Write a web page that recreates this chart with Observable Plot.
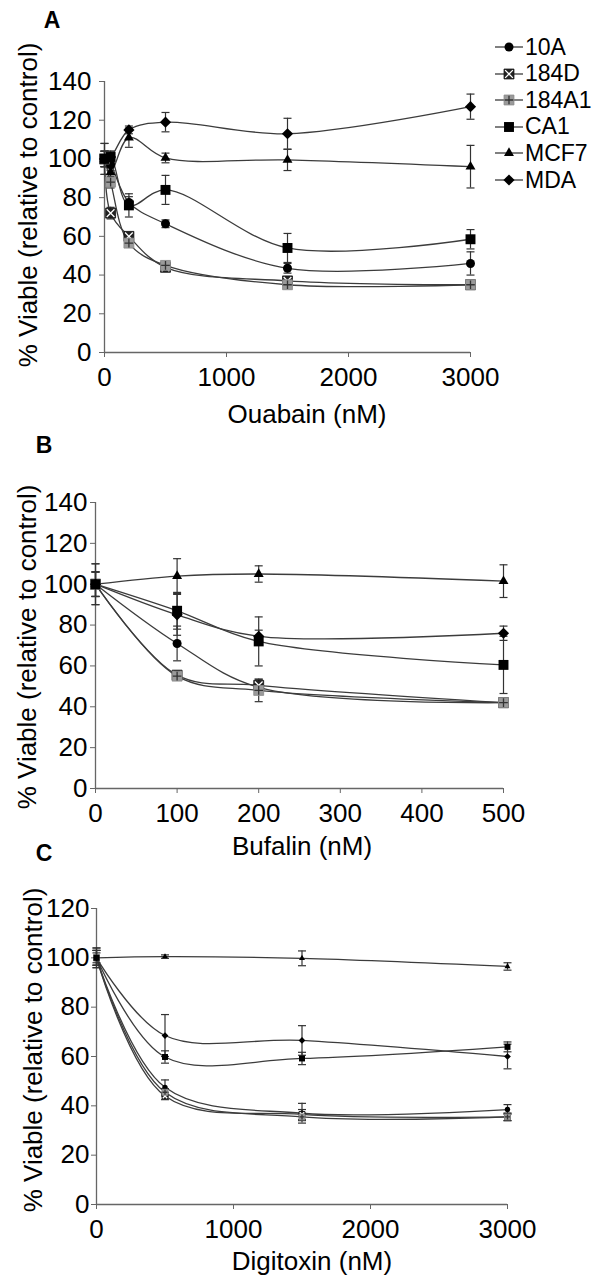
<!DOCTYPE html>
<html>
<head>
<meta charset="utf-8">
<script src="https://cdn.jsdelivr.net/npm/d3@7"></script>
<script src="https://cdn.jsdelivr.net/npm/@observablehq/plot@0.6"></script>
<style>
  body { margin: 0; background: #fff; font-family: "Liberation Sans", Arial, sans-serif; }
  #root { position: relative; width: 607px; height: 1277px; overflow: hidden; background: #fff; }
  #root svg.plotsvg { position: absolute; left: 0; }
  .lbl { position: absolute; font-size: 26px; line-height: 1; color: #000; white-space: nowrap; transform: translate(-50%, -50%); }
  .ylab { position: absolute; font-size: 26px; line-height: 1; color: #000; white-space: nowrap; transform: translate(-50%, -50%) rotate(-90deg); }
  .letter { position: absolute; font-size: 23px; font-weight: bold; line-height: 1; transform: translate(-50%, -50%); }
  .leg { position: absolute; left: 495px; height: 26px; display: flex; align-items: center; font-size: 23px; line-height: 1; white-space: nowrap; }
</style>
</head>
<body>
<div id="root"></div>
<script>
// ---------------- data ----------------
const seriesNames = ["10A", "184D", "184A1", "CA1", "MCF7", "MDA"];

const ouabainDoses = [0, 50, 200, 500, 1500, 3000];
const ouabainMeans = [
  [100, 97, 77.5, 66.5, 43.5, 46],
  [100, 72, 60, 44, 37, 35],
  [100, 88, 56.5, 45, 35, 35],
  [100, 101, 76, 84, 54, 58.5],
  [100, 93, 111, 100.5, 99.5, 96],
  [100, 101, 115, 119, 113, 127]
];
const ouabainErrors = [
  [4, 3, 3, 2, 2.5, 6],
  [4, 3, 2, 2, 2, 2],
  [4, 3, 2, 2, 2, 2],
  [8, 3, 6, 7.5, 7.5, 5],
  [4, 3, 5, 2.5, 5.5, 11],
  [8, 3, 2, 5, 8, 6.5]
];

const bufalinDoses = [0, 100, 200, 500];
const bufalinMeans = [
  [100, 71, 49.5, 42],
  [100, 55.5, 50.5, 42],
  [100, 55, 48, 42],
  [100, 87, 72, 60.5],
  [100, 104, 105, 101.5],
  [100, 85, 74.5, 76]
];
const bufalinErrors = [
  [6, 8.5, 3, 1.5],
  [6, 2, 3, 1.5],
  [10, 2, 5.5, 1.5],
  [10, 9, 12, 14],
  [6, 8.5, 4, 8],
  [6, 10, 3, 3.5]
];

const digitoxinDoses = [0, 500, 1500, 3000];
const digitoxinMeans = [
  [100, 47.5, 37, 38.5],
  [100, 44, 36.5, 35.5],
  [100, 45.5, 35.5, 35.5],
  [100, 59.8, 59.2, 63.9],
  [100, 100.5, 99.8, 96.5],
  [100, 68.5, 66.5, 60]
];
const digitoxinErrors = [
  [3, 3, 4, 2],
  [3, 1.5, 2, 1.5],
  [4, 1.5, 1.5, 1.5],
  [3, 2.5, 2.5, 2],
  [2, 0.7, 3, 1.5],
  [4, 8.5, 6, 5]
];

const ouabainTicks = [0, 1000, 2000, 3000];
const bufalinTicks = [0, 100, 200, 300, 400, 500];
const digitoxinTicks = [0, 1000, 2000, 3000];
const viabilityTicksAB = [0, 20, 40, 60, 80, 100, 120, 140];
const viabilityTicksC = [0, 20, 40, 60, 80, 100, 120];

const yTitle = "% Viable (relative to control)";
const xTitles = ["Ouabain (nM)", "Bufalin (nM)", "Digitoxin (nM)"];
const panelLetters = ["A", "B", "C"];

// ---------------- styling helpers ----------------
const FONT = '"Liberation Sans", Arial, sans-serif';
const LINE = "#3c3c3c";
const AXIS = "#666";

const capSymbol = { draw(ctx, size) { const w = Math.sqrt(size / Math.PI); ctx.moveTo(-w, 0); ctx.lineTo(w, 0); } };
const diamondSymbol = { draw(ctx, size) { const h = Math.sqrt(size / Math.PI); ctx.moveTo(0, -h); ctx.lineTo(h, 0); ctx.lineTo(0, h); ctx.lineTo(-h, 0); ctx.closePath(); } };

// marker layers for each series: [symbol, r, fill, stroke]
const markerStyles = {
  "10A":   [["circle", 4.5, "#000", "none"]],
  "184D":  [["square", 5.6, "#222", "#111"], ["times", 3.6, "none", "#fff"]],
  "184A1": [["square", 5.6, "#9a9a9a", "#8a8a8a"], ["plus", 2.9, "none", "#333"]],
  "CA1":   [["square", 5.6, "#000", "none"]],
  "MCF7":  [["triangle", 3.7, "#000", "none"]],
  "MDA":   [[diamondSymbol, 5.6, "#000", "none"]]
};

function rowsFor(doses, means, errs) {
  return seriesNames.flatMap((s, i) => doses.map((d, j) => ({ series: s, dose: d, mean: means[i][j], err: errs[i][j] })));
}

function makePanel(cfg) {
  const rows = rowsFor(cfg.doses, cfg.means, cfg.errs);
  const marks = [
    Plot.axisX({ ticks: cfg.xTicks, tickSize: 5, tickPadding: 10, label: null, stroke: AXIS, tickFormat: d => String(d) }),
    Plot.axisY({ ticks: cfg.yTicks, tickSize: 5, tickPadding: cfg.yPad, label: null, stroke: AXIS, tickFormat: d => String(d) }),
    Plot.ruleY([0], { stroke: AXIS, strokeWidth: 1.3 }),
    Plot.ruleX([0], { stroke: AXIS, strokeWidth: 1.3 }),
    Plot.line(rows, { x: "dose", y: "mean", z: "series", curve: "catmull-rom", stroke: LINE, strokeWidth: 1.3 }),
    Plot.ruleX(rows, { x: "dose", y1: d => d.mean - d.err, y2: d => d.mean + d.err, stroke: "#333", strokeWidth: 1.2 }),
    Plot.dot(rows, { x: "dose", y: d => d.mean + d.err, symbol: capSymbol, r: 4, fill: "none", stroke: "#333", strokeWidth: 1.2 }),
    Plot.dot(rows, { x: "dose", y: d => d.mean - d.err, symbol: capSymbol, r: 4, fill: "none", stroke: "#333", strokeWidth: 1.2 })
  ];
  for (const s of seriesNames) {
    const sub = rows.filter(d => d.series === s);
    for (const [sym, r, fill, stroke] of markerStyles[s]) {
      marks.push(Plot.dot(sub, { x: "dose", y: "mean", symbol: sym, r: r * cfg.scale, fill, stroke, strokeWidth: sym === "plus" || sym === "times" ? 1.3 : 0.8 }));
    }
  }
  const svg = Plot.plot({
    width: 607,
    height: cfg.height,
    marginTop: cfg.mt, marginBottom: cfg.mb, marginLeft: cfg.ml, marginRight: cfg.mr,
    x: { domain: [0, cfg.xMax] },
    y: { domain: [0, cfg.yMax] },
    style: { fontFamily: FONT, fontSize: "26px", color: "#000", background: "transparent", overflow: "visible" },
    marks
  });
  svg.classList.add("plotsvg");
  svg.style.top = cfg.top + "px";
  return svg;
}

const root = document.getElementById("root");

root.appendChild(makePanel({
  doses: ouabainDoses, means: ouabainMeans, errs: ouabainErrors,
  xTicks: ouabainTicks, yTicks: viabilityTicksAB, xMax: 3000, yMax: 140,
  top: 0, height: 440, mt: 81, mb: 88, ml: 104, mr: 137, yPad: 8, scale: 1
}));
root.appendChild(makePanel({
  doses: bufalinDoses, means: bufalinMeans, errs: bufalinErrors,
  xTicks: bufalinTicks, yTicks: viabilityTicksAB, xMax: 500, yMax: 140,
  top: 440, height: 410, mt: 62, mb: 62, ml: 95, mr: 104, yPad: 3, scale: 1
}));
root.appendChild(makePanel({
  doses: digitoxinDoses, means: digitoxinMeans, errs: digitoxinErrors,
  xTicks: digitoxinTicks, yTicks: viabilityTicksC, xMax: 3000, yMax: 120,
  top: 850, height: 427, mt: 58, mb: 73, ml: 96, mr: 100, yPad: 2, scale: 0.6
}));

// text labels
function addDiv(cls, text, x, y) {
  const el = document.createElement("div");
  el.className = cls; el.textContent = text;
  el.style.left = x + "px"; el.style.top = y + "px";
  root.appendChild(el);
}
const letterPos = [[52, 20], [44, 445], [44, 853]];
const yLabPos = [[28, 205], [27, 647], [33, 1050]];
const xLabPos = [[307, 414], [302, 846], [312, 1261]];
panelLetters.forEach((t, i) => addDiv("letter", t, letterPos[i][0], letterPos[i][1]));
xTitles.forEach((t, i) => addDiv("lbl", t, xLabPos[i][0], xLabPos[i][1]));
yLabPos.forEach(p => addDiv("ylab", yTitle, p[0], p[1]));

// legend (panel A)
seriesNames.forEach((s, i) => {
  const row = document.createElement("div");
  row.className = "leg";
  row.style.top = (34 + i * 26.6) + "px";
  const sv = d3.create("svg").attr("width", 29).attr("height", 26).style("display", "block");
  sv.append("line").attr("x1", 0).attr("x2", 28).attr("y1", 13).attr("y2", 13).attr("stroke", LINE).attr("stroke-width", 1.3);
  const symMap = { circle: d3.symbolCircle, square: d3.symbolSquare, times: d3.symbolTimes, plus: d3.symbolPlus, triangle: d3.symbolTriangle };
  for (const [sym, r, fill, stroke] of markerStyles[s]) {
    const type = typeof sym === "string" ? symMap[sym] : sym;
    sv.append("path").attr("transform", "translate(14,13)")
      .attr("d", d3.symbol(type, Math.PI * r * r)())
      .attr("fill", fill).attr("stroke", stroke)
      .attr("stroke-width", sym === "plus" || sym === "times" ? 1.3 : 0.8);
  }
  row.appendChild(sv.node());
  const t = document.createElement("span");
  t.textContent = s;
  t.style.marginLeft = "1px";
  row.appendChild(t);
  root.appendChild(row);
});
</script>
</body>
</html>
